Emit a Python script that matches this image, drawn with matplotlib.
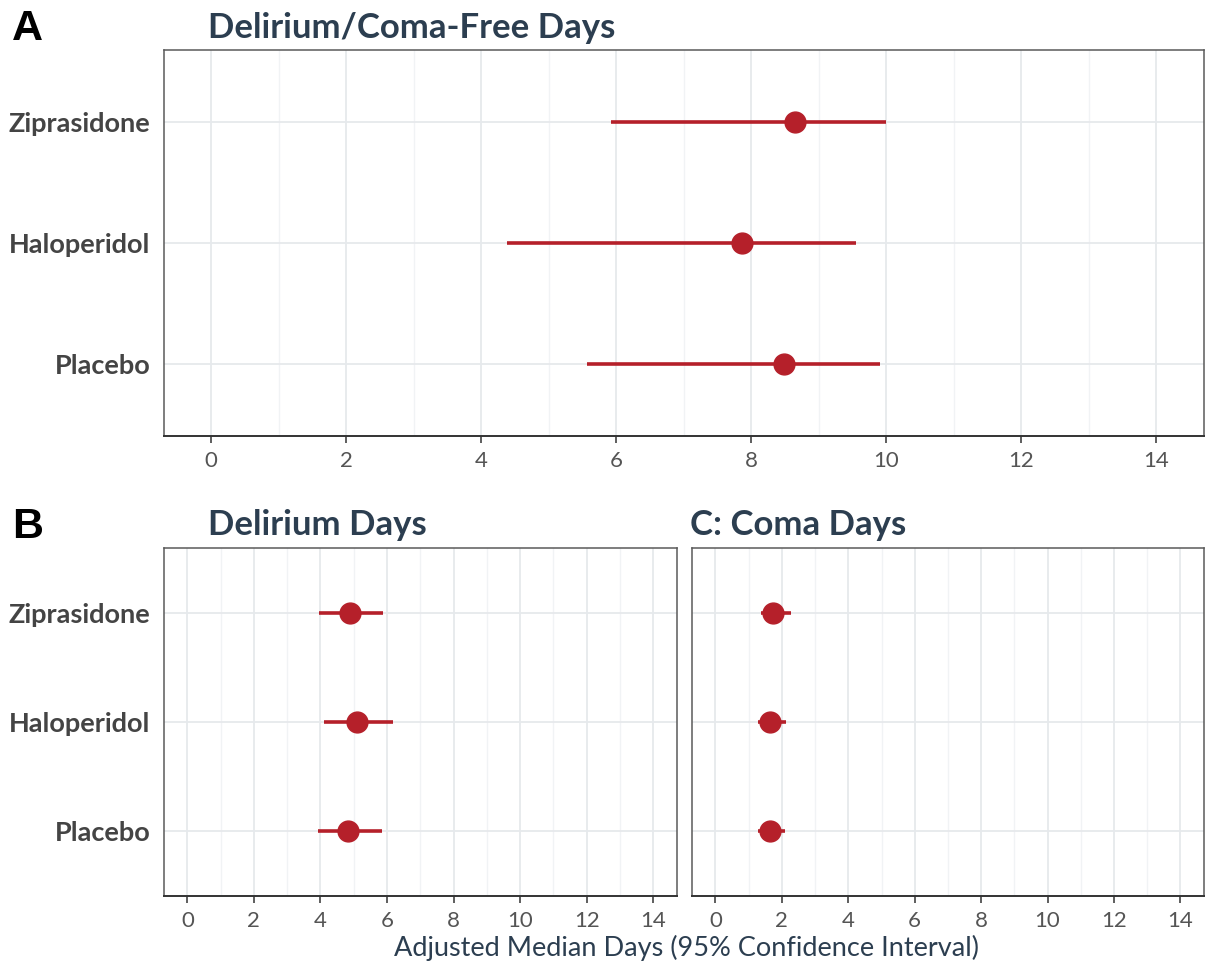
import matplotlib
matplotlib.use("Agg")
import matplotlib.pyplot as plt
from matplotlib.ticker import MultipleLocator

# 治療組別（由上到下）
groups = ["Ziprasidone", "Haloperidol", "Placebo"]

# A: Delirium/Coma-Free Days
free_median = [8.65, 7.86, 8.49]
free_low = [5.92, 4.38, 5.56]
free_high = [9.99, 9.55, 9.90]

# B: Delirium Days
delirium_median = [4.88, 5.10, 4.83]
delirium_low = [3.96, 4.11, 3.92]
delirium_high = [5.89, 6.17, 5.84]

# C: Coma Days
coma_median = [1.72, 1.64, 1.64]
coma_low = [1.36, 1.29, 1.29]
coma_high = [2.27, 2.13, 2.10]

x_ticks = [0, 2, 4, 6, 8, 10, 12, 14]

RED = "#B5202A"
NAVY = "#2C3E50"
GRID = "#E6E9EC"

plt.rcParams["font.family"] = ["Lato", "DejaVu Sans"]

fig = plt.figure(figsize=(12.06, 9.71), dpi=100)
ax_a = fig.add_axes([0.136, 0.551, 0.862, 0.3975])
ax_b = fig.add_axes([0.136, 0.0772, 0.425, 0.3584])
ax_c = fig.add_axes([0.574, 0.0772, 0.424, 0.3584])


def draw_panel(ax, med, lo, hi, show_y=True, lw=2.6, ms=15):
    ypos = [3, 2, 1]
    for y, m, l, h in zip(ypos, med, lo, hi):
        ax.plot([l, h], [y, y], color=RED, lw=lw, solid_capstyle="butt", zorder=3)
        ax.plot([m], [y], "o", color=RED, ms=ms, zorder=4)
    ax.set_xlim(-0.7, 14.7)
    ax.set_ylim(0.4, 3.6)
    ax.set_xticks(x_ticks)
    ax.xaxis.set_minor_locator(MultipleLocator(1))
    ax.set_yticks(ypos)
    ax.set_yticklabels(groups if show_y else [])
    ax.grid(which="major", color=GRID, lw=1.3, zorder=0)
    ax.grid(which="minor", axis="x", color="#F1F3F5", lw=1.0, zorder=0)
    ax.set_axisbelow(True)
    for s in ax.spines.values():
        s.set_color("#5A5A5A")
        s.set_linewidth(1.1)
    ax.spines["bottom"].set_color("#333333")
    ax.spines["bottom"].set_linewidth(1.4)
    ax.tick_params(axis="x", which="major", length=5, width=1.1, color="#333333",
                   labelsize=16, labelcolor="#555555", pad=6)
    ax.tick_params(axis="x", which="minor", length=0)
    ax.tick_params(axis="y", length=0, pad=10)
    for lab in ax.get_yticklabels():
        lab.set_fontsize(19.5)
        lab.set_fontweight("bold")
        lab.set_color("#444444")


draw_panel(ax_a, free_median, free_low, free_high)
draw_panel(ax_b, delirium_median, delirium_low, delirium_high)
draw_panel(ax_c, coma_median, coma_low, coma_high, show_y=False)

title_kw = dict(fontsize=25, fontweight="bold", color=NAVY, ha="left", va="center")
fig.text(208 / 1206, 1 - 28 / 971, "Delirium/Coma-Free Days", **title_kw)
fig.text(208 / 1206, 1 - 525 / 971, "Delirium Days", **title_kw)
fig.text(690 / 1206, 1 - 525 / 971, "C: Coma Days", **title_kw)

fig.text(0.010, 1 - 29 / 971, "A", fontsize=31, fontweight="bold", family="Liberation Sans",
         ha="left", va="center")
fig.text(0.010, 1 - 527 / 971, "B", fontsize=31, fontweight="bold", family="Liberation Sans",
         ha="left", va="center")
fig.text(686 / 1206, 1 - 948 / 971, "Adjusted Median Days (95% Confidence Interval)",
         fontsize=19.5, color=NAVY, ha="center", va="center")

fig.savefig("out.png", dpi=100)
